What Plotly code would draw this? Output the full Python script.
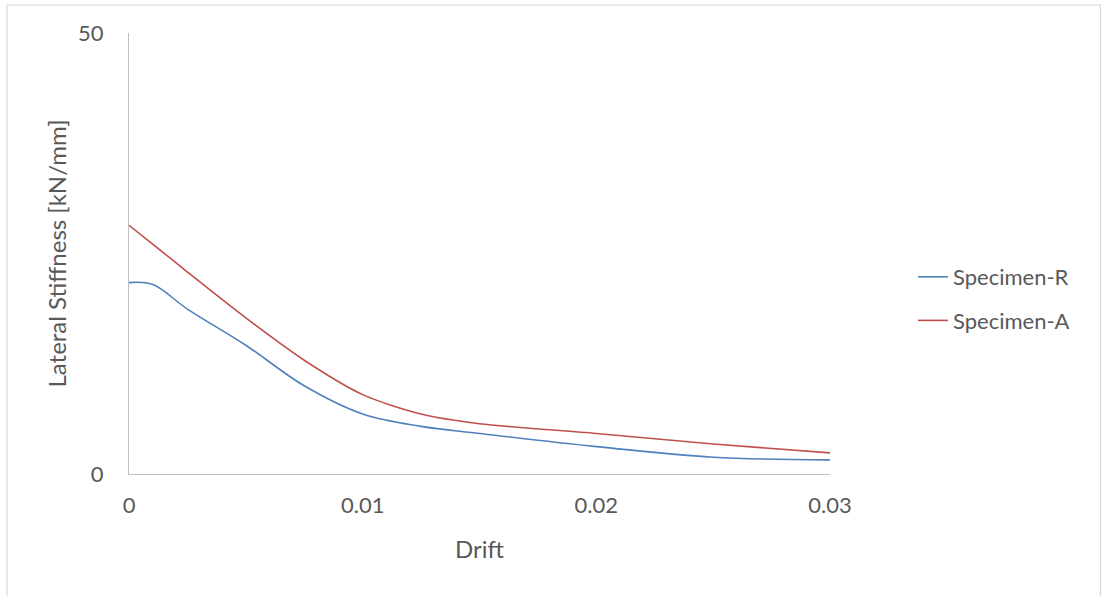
import plotly.graph_objects as go

# Drift ratio sampled along each curve
drift = [0, 0.001, 0.0025, 0.005, 0.0075, 0.01, 0.0125, 0.015, 0.02, 0.025, 0.03]

# Lateral stiffness [kN/mm]
specimen_r = [21.7, 21.5, 18.7, 14.6, 10.0, 6.8, 5.4, 4.6, 3.1, 1.9, 1.6]
specimen_a = [28.2, 26.1, 22.9, 17.7, 12.9, 9.0, 6.8, 5.7, 4.6, 3.4, 2.4]

x_ticks = [0, 0.01, 0.02, 0.03]
x_tick_text = ["0", "0.01", "0.02", "0.03"]
y_ticks = [0, 50]

FONT = "Lato"
TEXT = "#595959"
TICK_SIZE = 22
TITLE_SIZE = 24
W, H = 1103, 596
L, R, T, B = 129, 273, 33, 122

fig = go.Figure()
fig.add_trace(go.Scatter(x=drift, y=specimen_r, name="Specimen-R", mode="lines",
                         line=dict(color="#4f81bd", width=1.6, shape="spline", smoothing=1.0),
                         legendgroup="r"))
fig.add_trace(go.Scatter(x=drift, y=specimen_a, name="Specimen-A", mode="lines",
                         line=dict(color="#c0504d", width=1.6, shape="spline", smoothing=0.8),
                         legendgroup="a"))

pw = W - L - R
ph = H - T - B


def px_x(v):
    return (v - L) / pw


def px_y(v):
    return (H - B - v) / ph


# chart frame
fig.add_shape(type="rect", xref="paper", yref="paper",
              x0=px_x(7), x1=px_x(1100.5), y0=px_y(5), y1=px_y(620),
              line=dict(color="#d9d9d9", width=1.2), fillcolor="rgba(0,0,0,0)", layer="below")

fig.update_layout(
    width=W, height=H,
    margin=dict(l=L, r=R, t=T, b=B, pad=0),
    paper_bgcolor="white", plot_bgcolor="white",
    font=dict(family=FONT, size=TICK_SIZE, color=TEXT),
    showlegend=True,
    legend=dict(x=px_x(913), y=px_y(299), xanchor="left", yanchor="middle",
                font=dict(family=FONT, size=TICK_SIZE, color=TEXT),
                tracegroupgap=12, traceorder="grouped",
                bgcolor="rgba(0,0,0,0)", itemwidth=30),
    xaxis=dict(range=[0, 0.03], tickvals=x_ticks, ticktext=x_tick_text,
               showgrid=False, zeroline=False, showline=True, linecolor="#bfbfbf", linewidth=1.2,
               ticks="", ticklabelstandoff=11,
               title=dict(text="Drift", font=dict(family=FONT, size=TITLE_SIZE, color=TEXT), standoff=24)),
    yaxis=dict(range=[0, 50], tickvals=y_ticks, showgrid=True, gridcolor="#d9d9d9", gridwidth=1.2,
               zeroline=False, showline=True, linecolor="#bfbfbf", linewidth=1.2,
               ticks="", ticklabelstandoff=20,
               title=dict(text="Lateral Stiffness [kN/mm]", font=dict(family=FONT, size=TITLE_SIZE, color=TEXT),
                          standoff=4)),
)

fig.write_html("out.html")
